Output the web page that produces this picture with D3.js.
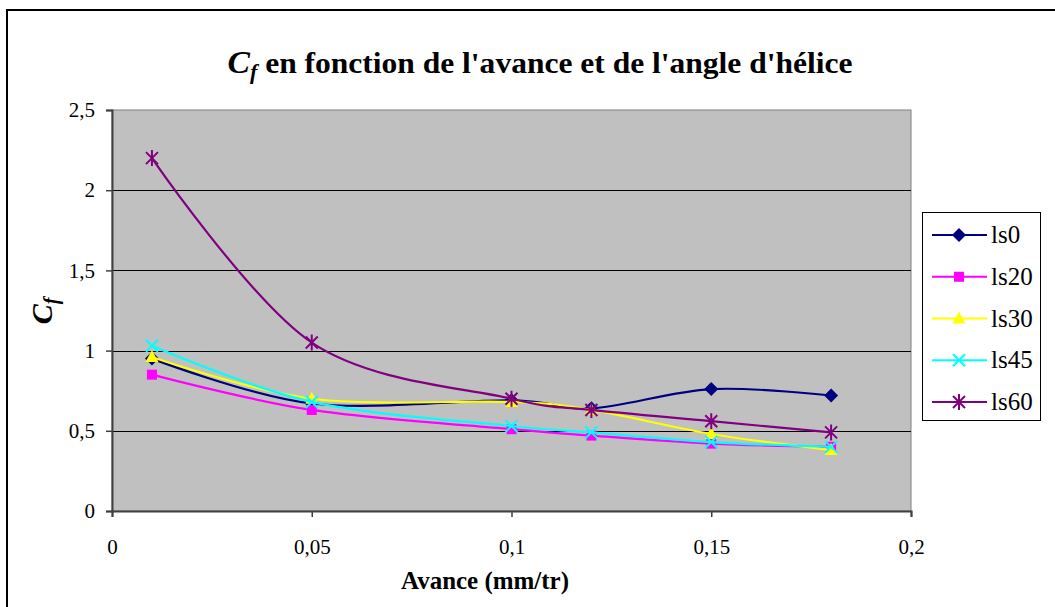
<!DOCTYPE html>
<html>
<head>
<meta charset="utf-8">
<script src="https://cdn.jsdelivr.net/npm/d3@7"></script>
<style>
  body { margin: 0; background: #fff; }
</style>
</head>
<body>
<div id="chart"></div>
<script>
// data
const avance = [0.01, 0.05, 0.1, 0.12, 0.15, 0.18];
const seriesNames = ["ls0", "ls20", "ls30", "ls45", "ls60"];
const ls0  = [0.95, 0.67, 0.69, 0.64, 0.76, 0.72];
const ls20 = [0.85, 0.63, 0.51, 0.47, 0.42, 0.40];
const ls30 = [0.96, 0.70, 0.68, 0.63, 0.48, 0.38];
const ls45 = [1.03, 0.68, 0.53, 0.49, 0.43, 0.40];
const ls60 = [2.20, 1.05, 0.70, 0.63, 0.56, 0.49];
const xTicks = [0, 0.05, 0.1, 0.15, 0.2];
const yTicks = [0, 0.5, 1, 1.5, 2, 2.5];

const colors = ["#000080", "#FF00FF", "#FFFF00", "#00FFFF", "#800080"];
const markers = ["diamond", "square", "triangle", "cross", "star"];
const allValues = [ls0, ls20, ls30, ls45, ls60];
const FONT = "'Liberation Serif', 'Times New Roman', serif";

const W = 1055, H = 607;
const margin = {left: 112, top: 110, right: W - 911, bottom: H - 511};
const width = W - margin.left - margin.right;
const height = H - margin.top - margin.bottom;

const fr = d3.formatLocale({decimal: ",", thousands: " ", grouping: [3], currency: ["", " €"]});
const fmt = fr.format("~g");

const svg = d3.select("#chart").append("svg")
  .attr("width", W)
  .attr("height", H);

// outer chart border
svg.append("rect")
  .attr("x", 7).attr("y", 10)
  .attr("width", W + 20).attr("height", H + 20)
  .attr("fill", "#fff").attr("stroke", "#000").attr("stroke-width", 2);

const g = svg.append("g").attr("transform", "translate(" + margin.left + "," + margin.top + ")");

const x = d3.scaleLinear().domain([0, 0.2]).range([0, width]);
const y = d3.scaleLinear().domain([0, 2.5]).range([height, 0]);

// plot area
g.append("rect")
  .attr("width", width).attr("height", height)
  .attr("fill", "#C0C0C0").attr("stroke", "#808080").attr("stroke-width", 1);

// gridlines
g.append("g")
  .selectAll("line")
  .data(yTicks.filter(d => d > 0 && d < 2.5))
  .enter().append("line")
    .attr("x1", 0).attr("x2", width)
    .attr("y1", d => Math.round(y(d)) + 0.5).attr("y2", d => Math.round(y(d)) + 0.5)
    .attr("stroke", "#000").attr("stroke-width", 1);

// axes
const yAxis = g.append("g")
  .call(d3.axisLeft(y).tickValues(yTicks).tickFormat(fmt).tickSize(6).tickPadding(11));
const xAxis = g.append("g")
  .attr("transform", "translate(0," + height + ")")
  .call(d3.axisBottom(x).tickValues(xTicks).tickFormat(fmt).tickSize(6).tickPadding(22));
[xAxis, yAxis].forEach(a => {
  a.select(".domain").attr("stroke", "#404040").attr("stroke-width", 2);
  a.selectAll(".tick line").attr("stroke", "#404040").attr("stroke-width", 1.5);
  a.selectAll("text").style("font-family", FONT).style("font-size", "21px").attr("fill", "#000");
});

// lines
const line = d3.line()
  .x((d, i) => x(avance[i]))
  .y(d => y(d))
  .curve(d3.curveCatmullRom.alpha(0));

function drawMarker(sel, type, color) {
  if (type === "diamond") {
    sel.append("path").attr("d", "M0,-7L7,0L0,7L-7,0Z").attr("fill", color);
  } else if (type === "square") {
    sel.append("rect").attr("x", -5).attr("y", -5).attr("width", 10).attr("height", 10).attr("fill", color);
  } else if (type === "triangle") {
    sel.append("path").attr("d", "M0,-7L6.5,5L-6.5,5Z").attr("fill", color);
  } else if (type === "cross") {
    sel.append("path").attr("d", "M-6,-6L6,6M-6,6L6,-6").attr("stroke", color).attr("stroke-width", 2);
  } else {
    sel.append("path").attr("d", "M-6,-6L6,6M-6,6L6,-6M0,-8L0,8").attr("stroke", color).attr("stroke-width", 2);
  }
}

seriesNames.forEach((name, k) => {
  g.append("path")
    .datum(allValues[k])
    .attr("d", line)
    .attr("fill", "none")
    .attr("stroke", colors[k])
    .attr("stroke-width", 2.2);
  g.append("g").selectAll("g")
    .data(allValues[k])
    .enter().append("g")
      .attr("transform", (d, i) => "translate(" + x(avance[i]) + "," + y(d) + ")")
      .each(function() { drawMarker(d3.select(this), markers[k], colors[k]); });
});

// title
const title = svg.append("text")
  .attr("x", 540).attr("y", 73)
  .attr("text-anchor", "middle")
  .style("font-family", FONT)
  .style("font-weight", "bold")
  .style("font-size", "30px")
  .attr("textLength", 625)
  .attr("lengthAdjust", "spacingAndGlyphs");
title.append("tspan").style("font-style", "italic").style("font-size", "32px").text("C");
title.append("tspan").style("font-style", "italic").style("font-size", "21px").attr("dy", 6).text("f");
title.append("tspan").attr("dy", -6).text(" en fonction de l'avance et de l'angle d'hélice");

// axis titles
svg.append("text")
  .attr("x", 485).attr("y", 589)
  .attr("text-anchor", "middle")
  .style("font-family", FONT)
  .style("font-weight", "bold")
  .style("font-size", "25px")
  .attr("textLength", 168)
  .attr("lengthAdjust", "spacingAndGlyphs")
  .text("Avance (mm/tr)");

const yl = svg.append("text")
  .attr("transform", "translate(52,311) rotate(-90)")
  .attr("text-anchor", "middle")
  .style("font-family", FONT)
  .style("font-weight", "bold")
  .style("font-style", "italic");
yl.append("tspan").style("font-size", "30px").text("C");
yl.append("tspan").style("font-size", "20px").attr("dy", 6).text("f");

// legend
const legend = svg.append("g");
legend.append("rect")
  .attr("x", 922.5).attr("y", 212.5)
  .attr("width", 118).attr("height", 208)
  .attr("fill", "#fff").attr("stroke", "#000").attr("stroke-width", 1);
const legY = d3.scalePoint().domain(seriesNames).range([235, 402]);
seriesNames.forEach((name, k) => {
  const it = legend.append("g").attr("transform", "translate(0," + legY(name) + ")");
  it.append("line").attr("x1", 932).attr("x2", 987).attr("stroke", colors[k]).attr("stroke-width", 2);
  drawMarker(it.append("g").attr("transform", "translate(959,0)"), markers[k], colors[k]);
  it.append("text").attr("x", 991).attr("y", 8)
    .style("font-family", FONT).style("font-size", "25px").text(name);
});
</script>
</body>
</html>
